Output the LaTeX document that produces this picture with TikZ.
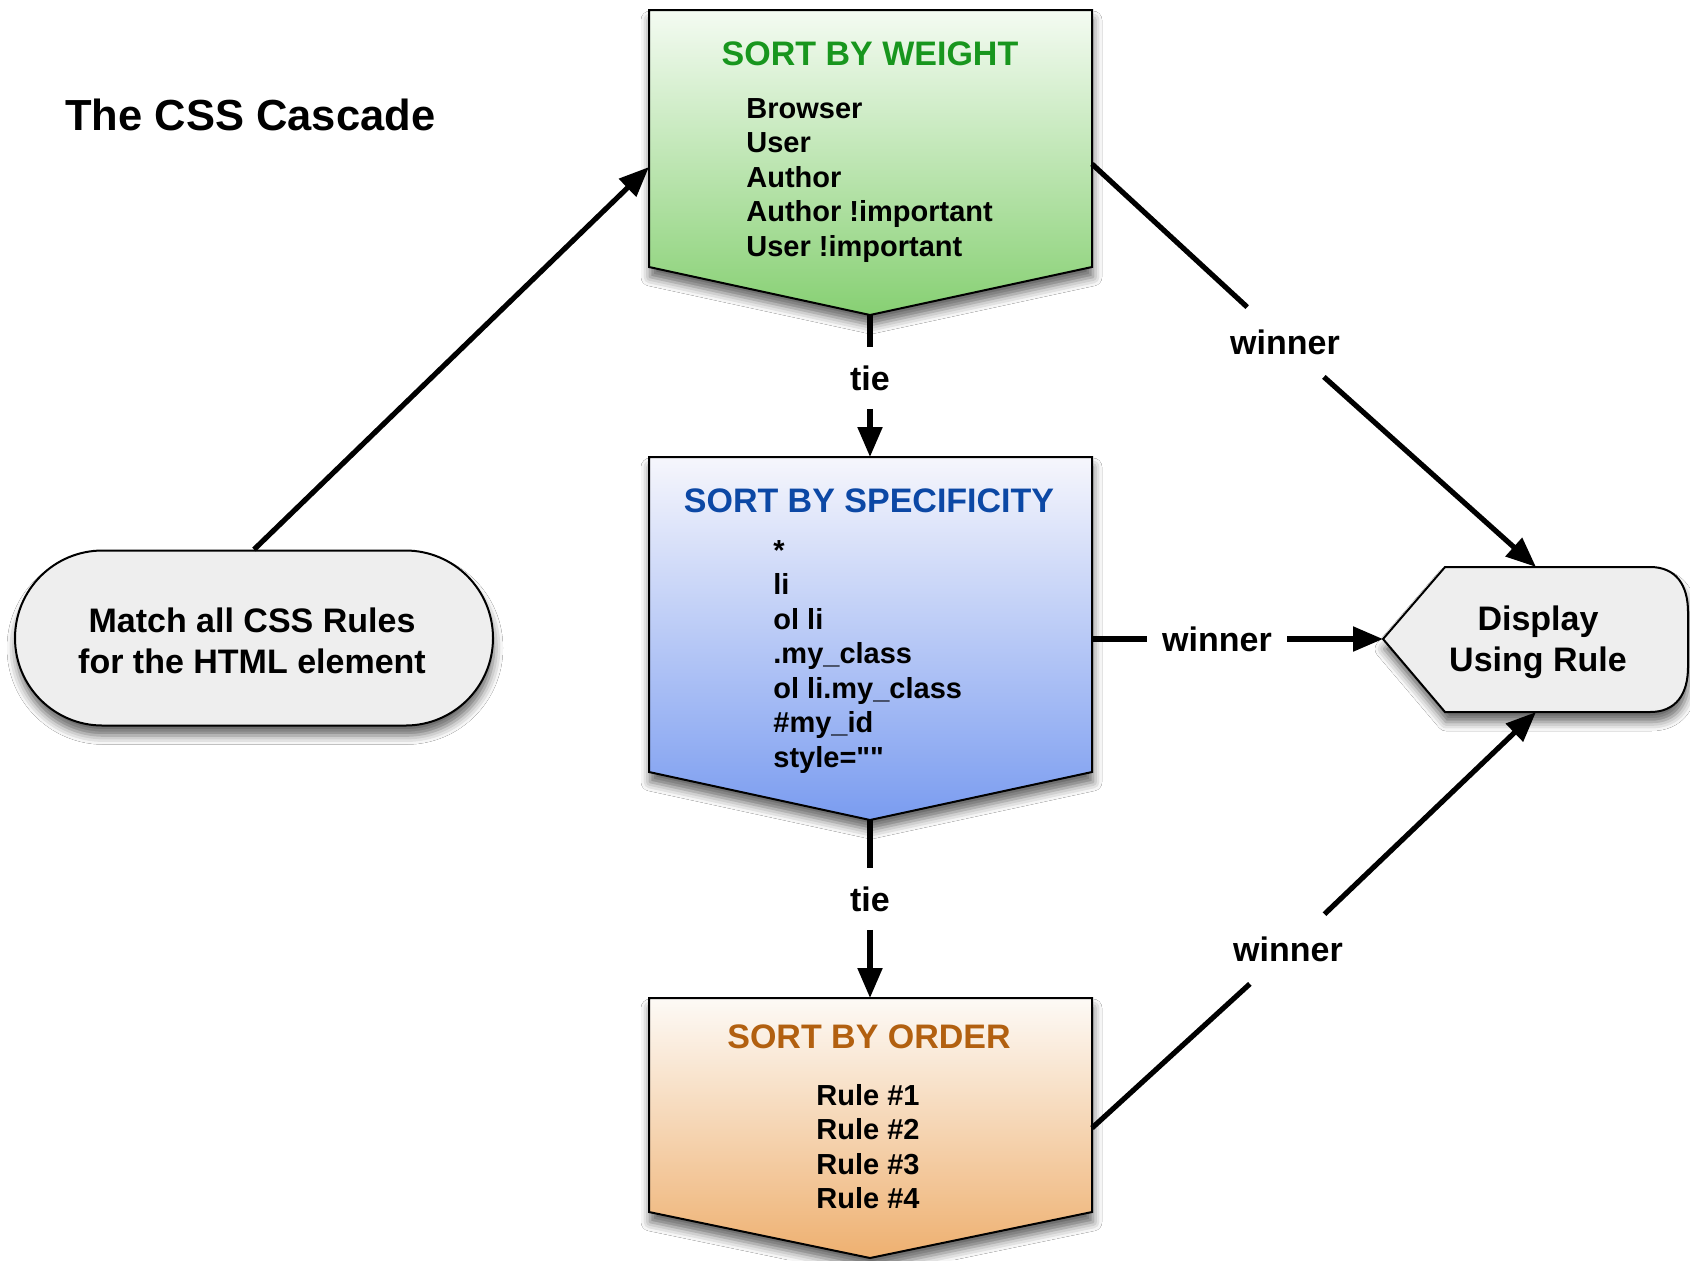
\documentclass[tikz,border=0pt]{standalone}
\usepackage{fontspec}
\setmainfont{Liberation Sans}[Ligatures=TeXOff]
\usetikzlibrary{arrows.meta,shapes.misc,shadows.blur}

\definecolor{gtitle}{RGB}{24,150,30}
\definecolor{btitle}{RGB}{12,72,165}
\definecolor{otitle}{RGB}{178,96,16}
\definecolor{gtop}{RGB}{244,251,242}
\definecolor{gmid}{RGB}{205,238,196}
\definecolor{gbot}{RGB}{135,208,115}
\definecolor{btop}{RGB}{246,246,252}
\definecolor{bmid}{RGB}{196,208,246}
\definecolor{bbot}{RGB}{122,156,240}
\definecolor{otop}{RGB}{253,250,246}
\definecolor{omid}{RGB}{246,220,194}
\definecolor{obot}{RGB}{238,176,112}
\definecolor{greyfill}{RGB}{238,238,238}

\begin{document}
\begin{tikzpicture}[x=0.5pt,y=-0.5pt,
  boxshape/.style={draw=black, line width=1pt,
    blur shadow={shadow xshift=0.5pt, shadow yshift=-5pt, shadow blur radius=4.5pt, shadow opacity=60}},
  conn/.style={line width=2.6pt, black},
  arr/.style={conn, -{Triangle[length=15pt,width=12pt]}},
  boxtitle/.style={font=\fontsize{17}{20}\selectfont\bfseries, inner sep=0pt, anchor=base},
  listtxt/.style={font=\fontsize{14.5}{17.25}\selectfont\bfseries, inner sep=0pt},
  bigtxt/.style={font=\fontsize{17}{20.5}\selectfont\bfseries, inner sep=0pt, anchor=base},
  lbl/.style={font=\fontsize{17}{20}\selectfont\bfseries},
  diaglbl/.style={lbl, inner sep=11pt},
  hlbl/.style={lbl, inner xsep=7.5pt, inner ysep=4pt},
  vlbl/.style={lbl, inner xsep=4pt, inner ysep=9pt}
]
\useasboundingbox (0,0) rectangle (1690,1260);
\fill[white] (0,0) rectangle (1690,1260);

% title
\node[font=\fontsize{21.75}{26}\selectfont\bfseries, inner sep=0pt, anchor=base west] (title) at (65,130) {The CSS Cascade};

% sort by weight
\path[boxshape, top color=gtop, middle color=gmid, bottom color=gbot] (649,10) -- (1092,10) -- (1092,267) -- (870,315) -- (649,267) -- cycle;
\node[boxtitle, text=gtitle] (wtitle) at (870,65) {SORT BY WEIGHT};
\node[listtxt, anchor=base west] (wlist) at (746,118) {\begin{tabular}[t]{@{}l@{}}Browser\\User\\Author\\Author !important\\User !important\end{tabular}};

% sort by specificity
\path[boxshape, top color=btop, middle color=bmid, bottom color=bbot] (649,457) -- (1092,457) -- (1092,772) -- (870,820) -- (649,772) -- cycle;
\node[boxtitle, text=btitle] (stitle) at (869,512) {SORT BY SPECIFICITY};
\node[listtxt, anchor=base west] (slist) at (773,560) {\begin{tabular}[t]{@{}l@{}}*\\li\\ol li\\.my\_class\\ol li.my\_class\\\#my\_id\\style=""\end{tabular}};

% sort by order
\path[boxshape, top color=otop, middle color=omid, bottom color=obot] (649,998) -- (1092,998) -- (1092,1212) -- (870,1258) -- (649,1212) -- cycle;
\node[boxtitle, text=otitle] (otitle) at (869,1048) {SORT BY ORDER};
\node[listtxt, anchor=base] (olist) at (868,1105) {\begin{tabular}[t]{@{}c@{}}Rule \#1\\Rule \#2\\Rule \#3\\Rule \#4\end{tabular}};

% match all css rules
\node[rounded rectangle, boxshape, fill=greyfill, minimum width=239pt, minimum height=87.5pt, inner sep=0pt] (match) at (254,638) {};
\node[bigtxt] (matchtxt) at (252,632) {\begin{tabular}[t]{@{}c@{}}Match all CSS Rules\\for the HTML element\end{tabular}};

% display using rule
\path[boxshape, fill=greyfill] (1383,639) -- (1445,567) -- (1650,567) .. controls (1676,567) and (1688,585) .. (1688,612) -- (1688,667) .. controls (1688,694) and (1676,712) .. (1650,712) -- (1445,712) -- cycle;
\node[bigtxt] (disptxt) at (1538,630) {\begin{tabular}[t]{@{}c@{}}Display\\Using Rule\end{tabular}};

% anchor coordinates
\coordinate (wL) at (649,167);
\coordinate (wR) at (1092,164);
\coordinate (wB) at (870,315);
\coordinate (sT) at (870,457);
\coordinate (sR) at (1092,639);
\coordinate (sB) at (870,820);
\coordinate (oT) at (870,998);
\coordinate (oR) at (1092,1128);
\coordinate (dT) at (1536,567);
\coordinate (dL) at (1383,639);
\coordinate (dB) at (1536,712);

% labels
\node[diaglbl] (win1) at (1285,342) {winner};
\node[hlbl] (win2) at (1217,639) {winner};
\node[diaglbl] (win3) at (1288,949) {winner};
\node[vlbl] (tie1) at (870,378) {tie};
\node[vlbl] (tie2) at (870,899) {tie};

% connectors
\draw[arr] (match.north) -- (wL);
\draw[conn] (wR) -- (win1);
\draw[arr] (win1) -- (dT);
\draw[conn] (wB) -- (tie1);
\draw[arr] (tie1) -- (sT);
\draw[conn] (sR) -- (win2);
\draw[arr] (win2) -- (dL);
\draw[conn] (sB) -- (tie2);
\draw[arr] (tie2) -- (oT);
\draw[conn] (oR) -- (win3);
\draw[arr] (win3) -- (dB);
\end{tikzpicture}
\end{document}
